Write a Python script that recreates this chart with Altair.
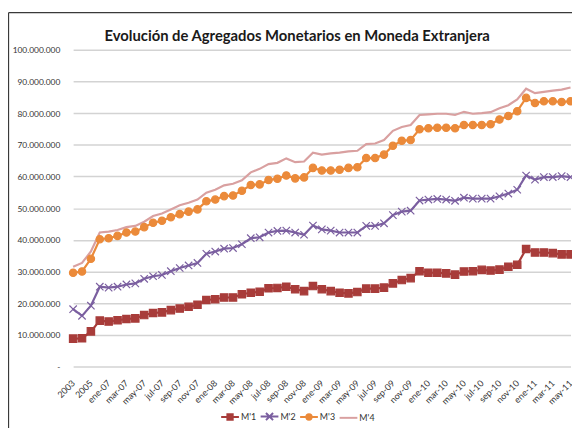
import altair as alt
import pandas as pd

anios = ["2003", "2004", "2005", "2006"]
meses = ["ene", "feb", "mar", "abr", "may", "jun", "jul", "ago", "sep", "oct", "nov", "dic"]
periodos = anios + [f"{m}-{a}" for a in ["07", "08", "09", "10"] for m in meses] + [f"{m}-11" for m in meses[:5]]

# values in millions
m1 = [8.8, 8.9, 11.1, 14.5, 14.2, 14.6, 15.0, 15.2, 16.25, 16.9, 17.1, 17.8, 18.3, 18.85, 19.5,
      21.0, 21.25, 21.8, 21.8, 22.8, 23.3, 23.6, 24.7, 24.8, 25.2, 24.4, 23.8, 25.4, 24.4, 23.8,
      23.3, 23.1, 23.5, 24.6, 24.6, 24.9, 26.25, 27.3, 27.9, 30.1, 29.6, 29.6, 29.4, 29.0, 30.0,
      30.1, 30.5, 30.3, 30.6, 31.5, 32.1, 37.1, 36.0, 36.0, 35.8, 35.4, 35.4]
m2 = [18.1, 16.0, 19.2, 25.2, 24.9, 25.2, 25.9, 26.25, 27.7, 28.5, 28.9, 30.1, 31.1, 31.9, 32.7,
      35.6, 36.3, 37.2, 37.4, 38.6, 40.5, 40.8, 42.3, 42.8, 42.9, 42.3, 41.6, 44.5, 43.3, 42.9,
      42.3, 42.3, 42.3, 44.4, 44.4, 45.2, 47.8, 48.9, 49.2, 52.4, 52.7, 52.9, 52.7, 52.3, 53.3,
      53.0, 53.0, 53.0, 53.75, 54.6, 55.8, 60.3, 59.0, 59.8, 59.8, 60.1, 59.8]
m3 = [29.6, 30.0, 34.0, 40.2, 40.5, 41.25, 42.3, 42.6, 44.0, 45.4, 46.0, 47.1, 48.1, 48.9, 49.6,
      52.2, 52.7, 53.8, 54.0, 55.5, 57.3, 57.5, 58.9, 59.3, 60.3, 59.4, 59.7, 62.7, 61.9, 61.9,
      62.1, 62.7, 62.9, 65.8, 65.8, 66.9, 69.7, 71.25, 71.5, 74.9, 75.2, 75.4, 75.4, 75.2, 76.25,
      76.25, 76.25, 76.5, 78.0, 79.1, 80.6, 84.8, 83.2, 83.75, 83.75, 83.5, 83.75]
m4 = [31.5, 32.7, 36.3, 42.3, 42.6, 43.1, 44.0, 44.4, 45.7, 47.5, 48.3, 49.6, 50.9, 51.7, 52.7,
      54.9, 55.8, 57.2, 57.7, 58.8, 61.3, 62.4, 63.9, 64.3, 65.7, 64.5, 64.7, 67.5, 66.9, 67.3,
      67.5, 67.9, 68.1, 70.2, 70.4, 71.5, 74.4, 75.6, 76.25, 79.4, 79.6, 79.8, 79.8, 79.4, 80.4,
      79.8, 80.0, 80.3, 81.5, 82.5, 84.3, 87.7, 86.3, 86.7, 87.1, 87.4, 88.1]

series = ["M'1", "M'2", "M'3", "M'4"]
colores = ["#A83C3A", "#7B5FA0", "#EB8A3A", "#D9A0A0"]
ticks_y = [0, 10, 20, 30, 40, 50, 60, 70, 80, 90, 100]
titulo = "Evolución de Agregados Monetarios en Moneda Extranjera"

rows = []
for s, vals in zip(series, [m1, m2, m3, m4]):
    for p, v in zip(periodos, vals):
        rows.append({"periodo": p, "serie": s, "valor": v})
df = pd.DataFrame(rows)
df_pts = df[df["serie"] != "M'4"]

FONT = "Lato, Open Sans, sans-serif"

XPATH = "M-1,-1L1,1M1,-1L-1,1"
leg_paths = [
    "M-1,0L1,0M-0.3,-0.3L0.3,-0.3L0.3,0.3L-0.3,0.3Z",
    "M-1,0L1,0M-0.4,-0.4L0.4,0.4M0.4,-0.4L-0.4,0.4",
    "M-1,0L1,0M-0.3,0A0.3,0.3,0,1,1,0.3,0A0.3,0.3,0,1,1,-0.3,0Z",
    "M-1,0L1,0",
]

x = alt.X("periodo:O", sort=periodos,
          scale=alt.Scale(type="point", range=[4.5, 508.5], padding=0),
          axis=alt.Axis(values=periodos[::2], labelAngle=315, labelAlign="right",
                        labelBaseline="middle", labelPadding=15, ticks=False, domain=False,
                        grid=False, title=None, labelFont=FONT, labelFontSize=9,
                        labelColor="#333333"))

label_expr = ("datum.value == 0 ? '-\u00a0\u00a0\u00a0' : "
              "replace(replace(format(datum.value * 1000000, ','), ',', '.'), ',', '.')")
y = alt.Y("valor:Q", scale=alt.Scale(domain=[0, 100], nice=False),
          axis=alt.Axis(values=ticks_y, labelExpr=label_expr, ticks=False, domain=False,
                        grid=True, gridColor="#d3d3d3", gridWidth=1.5, labelPadding=9,
                        title=None, labelFont=FONT, labelFontSize=8.5, labelColor="#333333"))

lines = alt.Chart(df).mark_line(strokeWidth=2.2).encode(
    x=x, y=y,
    stroke=alt.Stroke("serie:N", scale=alt.Scale(domain=series, range=colores), legend=None),
)

points = alt.Chart(df_pts).mark_point(opacity=1, size=56, strokeWidth=1.2).encode(
    x=x, y=y,
    shape=alt.Shape("serie:N", scale=alt.Scale(domain=series[:3], range=["square", XPATH, "circle"]), legend=None),
    fill=alt.Fill("serie:N", scale=alt.Scale(domain=series[:3], range=colores[:3]), legend=None),
    stroke=alt.Stroke("serie:N", scale=alt.Scale(domain=series[:3], range=colores[:3]), legend=None),
)

leg = alt.Legend(orient="none", legendX=153.5, legendY=361.5, direction="horizontal", columns=4,
                 title=None, symbolSize=324, symbolStrokeWidth=2, symbolOpacity=1,
                 labelFont=FONT, labelFontSize=9, labelOffset=1, columnPadding=0,
                 labelColor="#333333")
legend_layer = alt.Chart(df).mark_point(opacity=0).encode(
    x=x, y=y,
    shape=alt.Shape("serie:N", scale=alt.Scale(domain=series, range=leg_paths), legend=leg),
    fill=alt.Fill("serie:N", scale=alt.Scale(domain=series, range=colores), legend=leg),
    stroke=alt.Stroke("serie:N", scale=alt.Scale(domain=series, range=colores), legend=leg),
)

frame_df = pd.DataFrame({"k": [0]})
frame_left = alt.Chart(frame_df).mark_rule(color="#3a3a3a", strokeWidth=1.3).encode(
    x=alt.value(-61), y=alt.value(-37.5), y2=alt.value(400))
frame_top = alt.Chart(frame_df).mark_rule(color="#3a3a3a", strokeWidth=1.3).encode(
    x=alt.value(-61), x2=alt.value(515), y=alt.value(-37.5))

chart = alt.layer(frame_left, frame_top, lines, points, legend_layer).resolve_scale(
    shape="independent", fill="independent", stroke="independent"
).properties(
    width=510, height=321,
    padding={"left": 61.5, "top": 39.5, "right": 0, "bottom": 60},
    autosize=alt.AutoSizeParams(type="none"),
    title=alt.Title(titulo, font=FONT, fontSize=15, fontWeight="bold", color="#1a1a1a",
                    anchor="middle", frame="group", dx=-23.5, offset=-44.5,
                    baseline="alphabetic"),
).configure_view(stroke=None)

chart.save("out.html", embed_options={"renderer": "svg", "actions": False})
